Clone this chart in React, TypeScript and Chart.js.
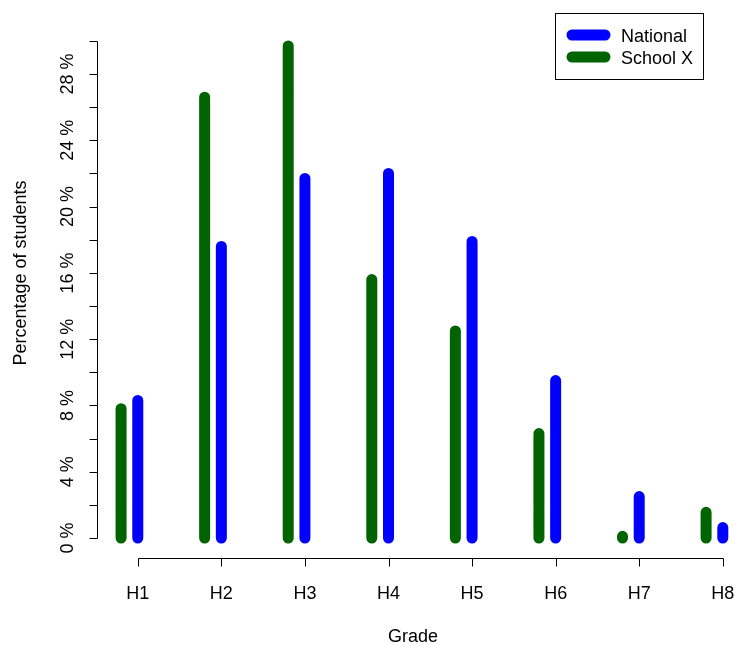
import React, { useEffect, useRef } from "react";
import { Chart, registerables } from "chart.js";

Chart.register(...registerables);

const GRADES = ["H1", "H2", "H3", "H4", "H5", "H6", "H7", "H8"];
const NATIONAL = [8.3, 17.6, 21.7, 22.0, 17.9, 9.5, 2.5, 0.63];
const SCHOOL_X = [7.8, 26.6, 29.7, 15.6, 12.5, 6.3, 0.1, 1.55];
const Y_TICKS = [0, 2, 4, 6, 8, 10, 12, 14, 16, 18, 20, 22, 24, 26, 28, 30];
const Y_LABEL_EVERY = 4;
const SERIES_LABELS = ["National", "School X"];
const SERIES_COLORS = ["#0000FF", "#006400"];
const X_TITLE = "Grade";
const Y_TITLE = "Percentage of students";

const FONT = "18px 'Liberation Sans', Arial, Helvetica, sans-serif";
const SCHOOL_OFFSET = -0.2;

function segments(values: number[], offset: number) {
  const pts: { x: number; y: number | null }[] = [];
  values.forEach((v, i) => {
    const x = i + 1 + offset;
    pts.push({ x, y: 0 });
    pts.push({ x, y: v });
    pts.push({ x, y: null });
  });
  return pts;
}

const rAxesPlugin = {
  id: "rAxes",
  afterDraw(chart: any) {
    const ctx = chart.ctx as CanvasRenderingContext2D;
    const xs = chart.scales.x;
    const ys = chart.scales.y;
    const area = chart.chartArea;
    ctx.save();
    ctx.strokeStyle = "#000";
    ctx.fillStyle = "#000";
    ctx.lineWidth = 1;
    ctx.font = FONT;

    // Y axis
    const ax = Math.round(area.left) + 0.5;
    const yb = Math.round(ys.getPixelForValue(Y_TICKS[0])) + 0.5;
    const yt = Math.round(ys.getPixelForValue(Y_TICKS[Y_TICKS.length - 1])) + 0.5;
    ctx.beginPath();
    ctx.moveTo(ax, yb);
    ctx.lineTo(ax, yt);
    Y_TICKS.forEach((t) => {
      const py = Math.round(ys.getPixelForValue(t)) + 0.5;
      ctx.moveTo(ax, py);
      ctx.lineTo(ax - 8, py);
    });
    ctx.stroke();
    Y_TICKS.forEach((t) => {
      if (t % Y_LABEL_EVERY !== 0 || t === Y_TICKS[Y_TICKS.length - 1]) return;
      const py = ys.getPixelForValue(t);
      ctx.save();
      ctx.translate(ax - 25, py);
      ctx.rotate(-Math.PI / 2);
      ctx.textAlign = "center";
      ctx.textBaseline = "alphabetic";
      ctx.fillText(`${t} %`, 0, 0);
      ctx.restore();
    });

    // X axis
    const axy = Math.round(area.bottom) + 0.5;
    const xl = Math.round(xs.getPixelForValue(1)) + 0.5;
    const xr = Math.round(xs.getPixelForValue(GRADES.length)) + 0.5;
    ctx.beginPath();
    ctx.moveTo(xl, axy);
    ctx.lineTo(xr, axy);
    GRADES.forEach((_, i) => {
      const px = Math.round(xs.getPixelForValue(i + 1)) + 0.5;
      ctx.moveTo(px, axy);
      ctx.lineTo(px, axy + 8);
    });
    ctx.stroke();
    ctx.textAlign = "center";
    ctx.textBaseline = "alphabetic";
    GRADES.forEach((g, i) => {
      ctx.fillText(g, xs.getPixelForValue(i + 1), axy + 40);
    });

    // Titles
    ctx.fillText(X_TITLE, 413, 642);
    ctx.save();
    ctx.translate(26, 273);
    ctx.rotate(-Math.PI / 2);
    ctx.fillText(Y_TITLE, 0, 0);
    ctx.restore();

    // Legend
    ctx.strokeStyle = "#000";
    ctx.lineWidth = 1;
    ctx.strokeRect(555.5, 13.5, 148, 66);
    const rows = [35, 57];
    SERIES_LABELS.forEach((lab, i) => {
      ctx.save();
      ctx.strokeStyle = SERIES_COLORS[i];
      ctx.lineWidth = 11;
      ctx.lineCap = "round";
      ctx.beginPath();
      ctx.moveTo(572, rows[i]);
      ctx.lineTo(605, rows[i]);
      ctx.stroke();
      ctx.restore();
      ctx.textAlign = "left";
      ctx.textBaseline = "alphabetic";
      ctx.fillText(lab, 621, rows[i] + 6.5);
    });
    ctx.restore();
  },
};

export default function App() {
  const ref = useRef<HTMLCanvasElement>(null);
  useEffect(() => {
    if (!ref.current) return;
    const chart = new Chart(ref.current, {
      type: "scatter",
      data: {
        datasets: [
          {
            label: SERIES_LABELS[0],
            data: segments(NATIONAL, 0) as any,
            showLine: true,
            borderColor: SERIES_COLORS[0],
            backgroundColor: SERIES_COLORS[0],
            borderWidth: 11,
            borderCapStyle: "round",
            borderJoinStyle: "round",
            pointRadius: 0,
            pointHoverRadius: 0,
            spanGaps: false,
            clip: false as any,
          },
          {
            label: SERIES_LABELS[1],
            data: segments(SCHOOL_X, SCHOOL_OFFSET) as any,
            showLine: true,
            borderColor: SERIES_COLORS[1],
            backgroundColor: SERIES_COLORS[1],
            borderWidth: 11,
            borderCapStyle: "round",
            borderJoinStyle: "round",
            pointRadius: 0,
            pointHoverRadius: 0,
            spanGaps: false,
            clip: false as any,
          },
        ],
      },
      options: {
        responsive: false,
        animation: false,
        events: [],
        layout: { padding: { left: 97, right: 0, top: 26, bottom: 87 } },
        plugins: { legend: { display: false }, tooltip: { enabled: false } },
        scales: {
          x: { type: "linear", display: false, min: 0.512, max: 8.158 },
          y: { type: "linear", display: false, min: -1.207, max: 30.9 },
        },
      },
      plugins: [rAxesPlugin],
    });
    return () => chart.destroy();
  }, []);
  return (
    <div style={{ position: "absolute", left: 0, top: 0, width: 736, height: 645, background: "#fff" }}>
      <canvas ref={ref} width={736} height={645} />
    </div>
  );
}
